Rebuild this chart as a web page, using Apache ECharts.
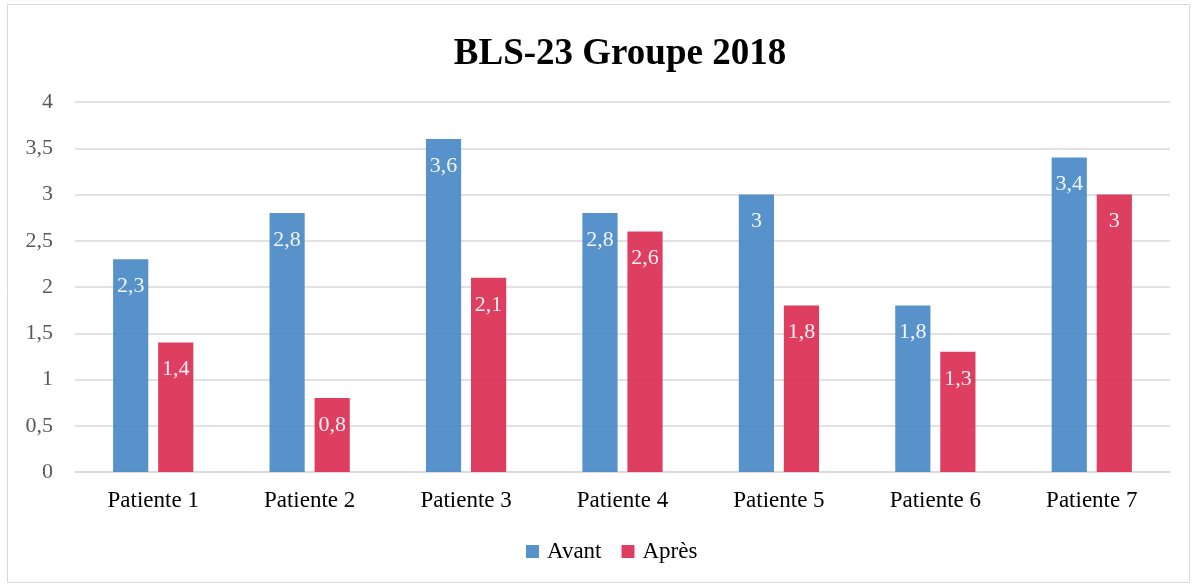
<!DOCTYPE html>
<html>
<head>
<meta charset="utf-8">
<script src="https://cdn.jsdelivr.net/npm/echarts@6/dist/echarts.min.js"></script>
<style>
  html, body { margin: 0; padding: 0; background: #fff; }
  #container { width: 1196px; height: 586px; }
</style>
</head>
<body>
<div id="container"></div>
<script>
// data
var categories = ['Patiente 1', 'Patiente 2', 'Patiente 3', 'Patiente 4', 'Patiente 5', 'Patiente 6', 'Patiente 7'];
var avant = [2.3, 2.8, 3.6, 2.8, 3, 1.8, 3.4];
var apres = [1.4, 0.8, 2.1, 2.6, 1.8, 1.3, 3];

var serif = '"Liberation Serif", "Times New Roman", serif';

function fr(v) { return String(v).replace('.', ','); }

var myChart = echarts.init(document.getElementById('container'));
var option = {
    animation: false,
    title: {
        text: 'BLS-23 Groupe 2018',
        left: 615,
        textAlign: 'center',
        top: 31,
        textStyle: { fontFamily: serif, fontSize: 37, fontWeight: 'bold', color: '#000' }
    },
    graphic: [{
        type: 'rect',
        shape: { x: 7.5, y: 4.5, width: 1182, height: 578 },
        style: { fill: null, stroke: '#d9d9d9', lineWidth: 1 },
        silent: true
    }],
    legend: {
        bottom: 18,
        left: 521,
        itemWidth: 13,
        itemHeight: 13,
        itemGap: 20,
        icon: 'rect',
        textStyle: { fontFamily: serif, fontSize: 23, color: '#000', padding: [0, 0, 0, 3] },
        data: ['Avant', 'Après']
    },
    grid: { left: 75, right: 26, top: 102, bottom: 114 },
    xAxis: {
        type: 'category',
        data: categories,
        axisTick: { show: false },
        axisLine: { lineStyle: { color: '#d9d9d9', width: 1.5 } },
        axisLabel: { fontFamily: serif, fontSize: 23, color: '#000', margin: 17 }
    },
    yAxis: {
        type: 'value',
        min: 0,
        max: 4,
        interval: 0.5,
        axisLabel: { fontFamily: serif, fontSize: 22, color: '#595959', margin: 22, formatter: fr },
        splitLine: { lineStyle: { color: '#d9d9d9', width: 1.5 } }
    },
    series: [
        {
            name: 'Avant',
            type: 'bar',
            data: avant,
            barWidth: '22.5%',
            barGap: '28%',
            itemStyle: { color: '#4a89c5', opacity: 0.92 },
            label: {
                show: true, position: 'insideTop', distance: 16,
                color: '#fff', fontFamily: serif, fontSize: 22,
                formatter: function (p) { return fr(p.value); }
            }
        },
        {
            name: 'Après',
            type: 'bar',
            data: apres,
            barWidth: '22.5%',
            itemStyle: { color: '#db2f52', opacity: 0.92 },
            label: {
                show: true, position: 'insideTop', distance: 16,
                color: '#fff', fontFamily: serif, fontSize: 22,
                formatter: function (p) { return fr(p.value); }
            }
        }
    ]
};
myChart.setOption(option);
</script>
</body>
</html>
